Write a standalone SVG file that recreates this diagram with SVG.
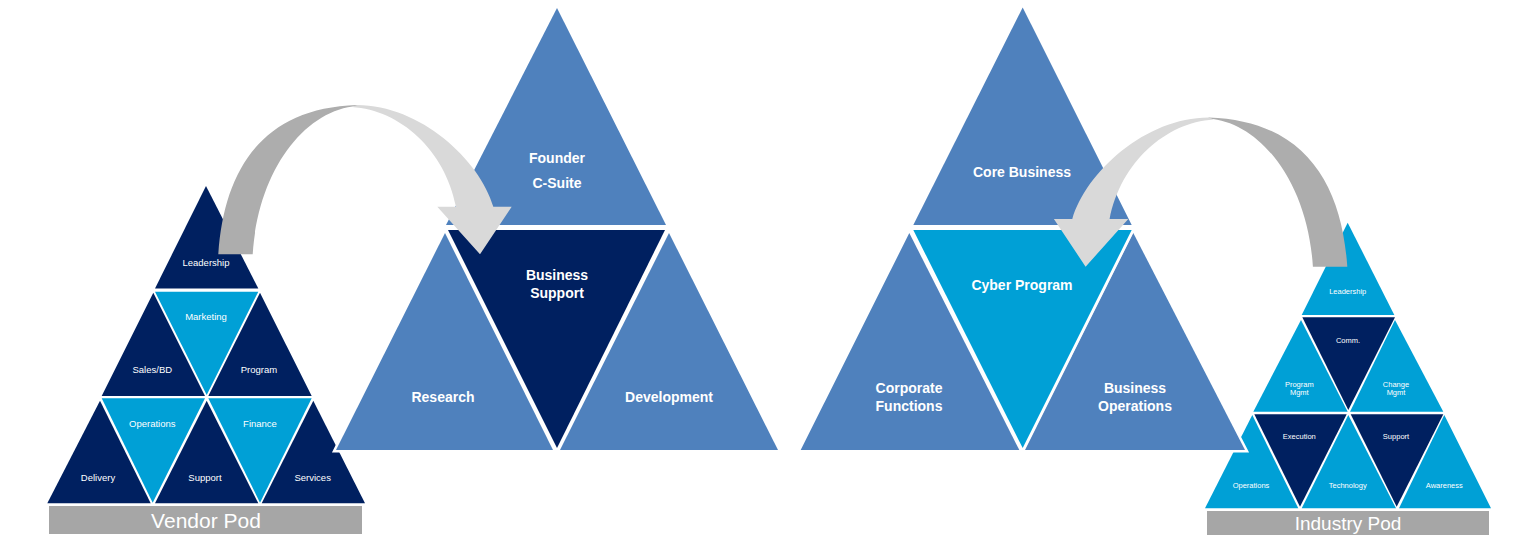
<svg xmlns="http://www.w3.org/2000/svg" width="1533" height="550" viewBox="0 0 1533 550">
<defs>
<style>
.navy{fill:#002060}
.cyan{fill:#00A0D6}
.mid{fill:#4F81BD}
.halo{stroke:#FFFFFF;stroke-width:5;stroke-linejoin:miter;paint-order:stroke fill}
.bar{fill:#A6A6A6}
.lbl{font-family:"Liberation Sans",Arial,sans-serif;fill:#FFFFFF;text-anchor:middle;font-weight:bold;font-size:14px}
.sm{font-family:"Liberation Sans",Arial,sans-serif;fill:#FFFFFF;text-anchor:middle;font-size:9.5px}
.xs{font-family:"Liberation Sans",Arial,sans-serif;fill:#FFFFFF;text-anchor:middle;font-size:7.5px}
.pod{font-family:"Liberation Sans",Arial,sans-serif;fill:#FFFFFF;text-anchor:middle}
.adark{fill:#ADADAD}
.alight{fill:#D9D9D9}
</style>
<g id="curvedArrow">
<path class="adark" d="M218.3,254.3 C224,170 262,108 357,105 L357,106 C305,110 258,170 252.7,254.3 Z"/>
<path class="alight" d="M357,105 C420,105 480,160 493.3,206.7 L511.7,206.7 L480,254.3 L437.3,206.7 L456,206.7 C445,150 400,110 352,107 Z"/>
</g>
</defs>
<rect width="1533" height="550" fill="#FFFFFF"/>

<!-- Vendor Pod pyramid -->
<g id="vendor-pod">
<g id="v-leadership"><polygon class="navy" points="206,186 155,288.5 258.3,288.5"/><text class="sm" x="206" y="266">Leadership</text></g>
<g id="v-salesbd"><polygon class="navy" points="153.3,292.7 101.7,396 205,396"/><text class="sm" x="152.3" y="373.3">Sales/BD</text></g>
<g id="v-marketing"><polygon class="cyan" points="155,291.7 258.3,291.7 206.7,395"/><text class="sm" x="206" y="320">Marketing</text></g>
<g id="v-program"><polygon class="navy" points="260,292.7 208.3,396 311.7,396"/><text class="sm" x="259" y="373.3">Program</text></g>
<g id="v-delivery"><polygon class="navy" points="100,400.7 47.3,503.3 150.7,503.3"/><text class="sm" x="98" y="481">Delivery</text></g>
<g id="v-operations"><polygon class="cyan" points="101.7,398.3 205,398.3 152.7,502.7"/><text class="sm" x="152.3" y="426.6">Operations</text></g>
<g id="v-support"><polygon class="navy" points="206.7,400.7 155,503.3 258.3,503.3"/><text class="sm" x="205" y="481">Support</text></g>
<g id="v-finance"><polygon class="cyan" points="208.3,398.3 311.7,398.3 260,502.7"/><text class="sm" x="260" y="426.6">Finance</text></g>
<g id="v-services"><polygon class="navy" points="313.3,400.7 261.7,503.3 365,503.3"/><text class="sm" x="312.7" y="481">Services</text></g>
<g id="v-bar"><rect class="bar" x="49" y="506" width="313" height="28"/><text class="pod" x="206" y="527.5" font-size="21">Vendor Pod</text></g>
</g>

<!-- Industry Pod pyramid -->
<g id="industry-pod">
<g id="i-leadership"><polygon class="cyan" points="1347.7,222.7 1301.7,315 1394.3,315"/><text class="xs" x="1347.7" y="294.3">Leadership</text></g>
<g id="i-programmgmt"><polygon class="cyan" points="1301,320 1253.3,411.7 1347.7,411.7"/><text class="xs" x="1299.3" y="386.6">Program</text><text class="xs" x="1299.3" y="395.3">Mgmt</text></g>
<g id="i-comm"><polygon class="navy" points="1302.3,317.3 1395,317.3 1348.3,410"/><text class="xs" x="1348" y="342.6">Comm.</text></g>
<g id="i-changemgmt"><polygon class="cyan" points="1395,320 1350,411.7 1443.3,411.7"/><text class="xs" x="1396" y="386.6">Change</text><text class="xs" x="1396" y="395.3">Mgmt</text></g>
<g id="i-operations"><polygon class="cyan" points="1252.3,415 1205,508.3 1298.3,508.3"/><text class="xs" x="1251" y="487.6">Operations</text></g>
<g id="i-execution"><polygon class="navy" points="1254.3,414.3 1346.7,414.3 1300,506.7"/><text class="xs" x="1299.3" y="439.3">Execution</text></g>
<g id="i-technology"><polygon class="cyan" points="1348.3,415 1301.7,508.3 1396,508.3"/><text class="xs" x="1347.7" y="487.6">Technology</text></g>
<g id="i-support"><polygon class="navy" points="1350.7,414.3 1443.3,414.3 1396.7,506.7"/><text class="xs" x="1396" y="439.3">Support</text></g>
<g id="i-awareness"><polygon class="cyan" points="1444.3,415 1399,508.3 1491,508.3"/><text class="xs" x="1444.3" y="487.6">Awareness</text></g>
<g id="i-bar"><rect class="bar" x="1207" y="511" width="282" height="24"/><text class="pod" x="1348" y="530" font-size="19">Industry Pod</text></g>
</g>

<!-- Startup pyramid -->
<g id="startup">
<g id="s-founder"><polygon class="mid halo" points="557,8 446,225 666,225"/><text class="lbl" x="557" y="163">Founder</text><text class="lbl" x="557" y="188">C-Suite</text></g>
<g id="s-research"><polygon class="mid halo" points="445,233 336,450 553,450"/><text class="lbl" x="443" y="402">Research</text></g>
<g id="s-development"><polygon class="mid halo" points="669,233 560,450 778,450"/><text class="lbl" x="669" y="402">Development</text></g>
<g id="s-bizsupport"><polygon class="navy halo" points="448,230 665,230 557,448"/><text class="lbl" x="557" y="280">Business</text><text class="lbl" x="557" y="298">Support</text></g>
</g>

<!-- Enterprise pyramid -->
<g id="enterprise">
<g id="e-core"><polygon class="mid halo" points="1022.7,7.5 913.3,225 1131.7,225"/><text class="lbl" x="1022" y="177">Core Business</text></g>
<g id="e-corporate"><polygon class="mid halo" points="909.3,233 800.7,450 1019.3,450"/><text class="lbl" x="909" y="393">Corporate</text><text class="lbl" x="909" y="411">Functions</text></g>
<g id="e-bizops"><polygon class="mid halo" points="1133.3,233 1025,450 1245,450"/><text class="lbl" x="1135" y="393">Business</text><text class="lbl" x="1135" y="411">Operations</text></g>
<g id="e-cyber"><polygon class="cyan halo" points="913.3,230 1131.7,230 1022.7,448"/><text class="lbl" x="1022" y="290">Cyber Program</text></g>
</g>

<!-- Connectors -->
<g id="connectors">
<use href="#curvedArrow"/>
<use href="#curvedArrow" transform="translate(1565.6,12.4) scale(-1,1)"/>
</g>
</svg>
